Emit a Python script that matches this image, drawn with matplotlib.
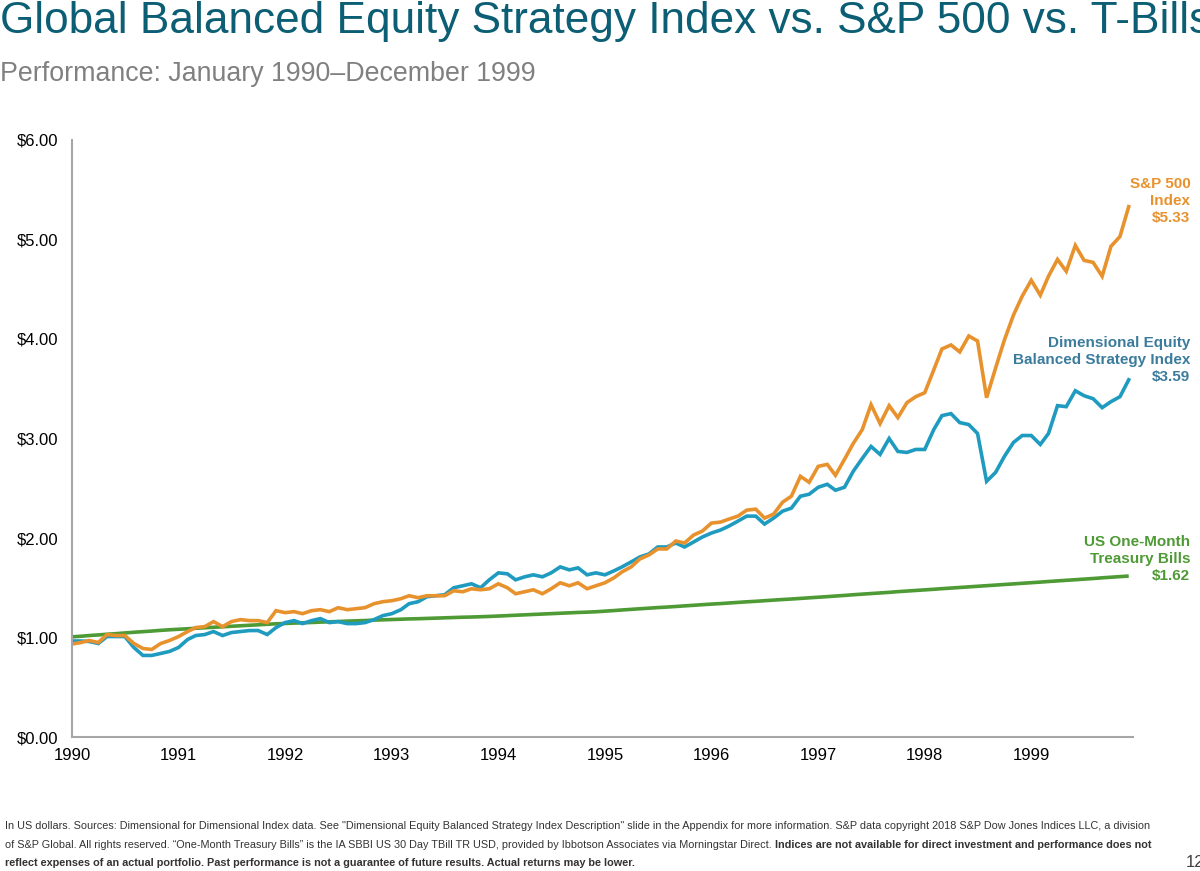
import matplotlib.pyplot as plt
import matplotlib.dates as mdates
import pandas as pd

plt.rcParams['font.family'] = ['Liberation Sans', 'DejaVu Sans']

# month-end growth of $1, Jan 1990 - Dec 1999
sp500 = [0.935, 0.95, 0.97, 0.95, 1.03, 1.02, 1.02, 0.94, 0.89, 0.88, 0.94, 0.97,
         1.01, 1.06, 1.10, 1.11, 1.16, 1.11, 1.16, 1.18, 1.17, 1.17, 1.15, 1.27,
         1.25, 1.26, 1.24, 1.27, 1.28, 1.26, 1.30, 1.28, 1.29, 1.30, 1.34, 1.36,
         1.37, 1.39, 1.42, 1.40, 1.42, 1.42, 1.42, 1.47, 1.46, 1.49, 1.48, 1.49,
         1.54, 1.50, 1.44, 1.46, 1.48, 1.44, 1.49, 1.55, 1.52, 1.55, 1.49, 1.52,
         1.55, 1.60, 1.66, 1.71, 1.79, 1.83, 1.89, 1.89, 1.97, 1.95, 2.03, 2.07,
         2.15, 2.16, 2.19, 2.22, 2.28, 2.29, 2.20, 2.24, 2.36, 2.42, 2.62, 2.56,
         2.72, 2.74, 2.63, 2.79, 2.95, 3.09, 3.34, 3.15, 3.33, 3.21, 3.36, 3.42,
         3.46, 3.69, 3.90, 3.94, 3.87, 4.03, 3.98, 3.41, 3.71, 3.99, 4.24, 4.43,
         4.59, 4.44, 4.63, 4.80, 4.68, 4.94, 4.79, 4.77, 4.63, 4.93, 5.03, 5.33]

dimensional = [0.965, 0.965, 0.96, 0.94, 1.01, 1.01, 1.01, 0.90, 0.82, 0.82, 0.84, 0.86,
               0.90, 0.98, 1.02, 1.03, 1.06, 1.02, 1.05, 1.06, 1.07, 1.07, 1.03, 1.10,
               1.15, 1.17, 1.14, 1.17, 1.19, 1.15, 1.16, 1.14, 1.14, 1.15, 1.18, 1.22,
               1.24, 1.28, 1.34, 1.36, 1.41, 1.42, 1.43, 1.50, 1.52, 1.54, 1.50, 1.58,
               1.65, 1.64, 1.58, 1.61, 1.63, 1.61, 1.65, 1.71, 1.68, 1.70, 1.63, 1.65,
               1.63, 1.67, 1.71, 1.76, 1.81, 1.84, 1.91, 1.91, 1.95, 1.91, 1.96, 2.01,
               2.05, 2.08, 2.12, 2.17, 2.22, 2.22, 2.14, 2.20, 2.27, 2.30, 2.42, 2.44,
               2.51, 2.54, 2.48, 2.51, 2.67, 2.80, 2.92, 2.84, 3.00, 2.87, 2.86, 2.89,
               2.89, 3.09, 3.23, 3.25, 3.16, 3.14, 3.05, 2.57, 2.66, 2.82, 2.96, 3.03,
               3.03, 2.94, 3.05, 3.33, 3.32, 3.48, 3.43, 3.40, 3.31, 3.37, 3.42, 3.59]

tbills = [1.007, 1.013, 1.020, 1.026, 1.033, 1.039, 1.046, 1.053, 1.059, 1.065, 1.072, 1.078,
          1.083, 1.088, 1.093, 1.098, 1.103, 1.108, 1.113, 1.118, 1.123, 1.128, 1.133, 1.138,
          1.141, 1.145, 1.148, 1.151, 1.155, 1.158, 1.161, 1.165, 1.168, 1.171, 1.175, 1.178,
          1.181, 1.184, 1.187, 1.189, 1.192, 1.195, 1.198, 1.201, 1.204, 1.206, 1.209, 1.212,
          1.216, 1.220, 1.224, 1.228, 1.232, 1.236, 1.240, 1.244, 1.248, 1.252, 1.255, 1.259,
          1.265, 1.271, 1.277, 1.283, 1.289, 1.295, 1.301, 1.306, 1.312, 1.318, 1.324, 1.330,
          1.336, 1.341, 1.347, 1.353, 1.359, 1.364, 1.370, 1.376, 1.382, 1.387, 1.393, 1.399,
          1.405, 1.411, 1.417, 1.423, 1.430, 1.436, 1.442, 1.448, 1.454, 1.461, 1.467, 1.473,
          1.479, 1.485, 1.491, 1.497, 1.503, 1.509, 1.515, 1.521, 1.527, 1.533, 1.539, 1.545,
          1.551, 1.557, 1.563, 1.569, 1.575, 1.581, 1.587, 1.593, 1.600, 1.606, 1.612, 1.618]

months = pd.date_range('1990-01-01', periods=len(sp500), freq='MS')
yticks = [0, 1, 2, 3, 4, 5, 6]

c_sp = '#E8922E'
c_dim = '#1F9BBF'
c_tb = '#4E9A35'

fig = plt.figure(figsize=(12, 8.71), dpi=100)
ax = fig.add_axes([0.06, 0.1538, 0.884, 0.6855])

ax.plot(months, tbills, color=c_tb, lw=2.6, solid_capstyle='butt')
ax.plot(months, dimensional, color=c_dim, lw=2.6, solid_joinstyle='miter')
ax.plot(months, sp500, color=c_sp, lw=2.6, solid_joinstyle='miter')

ax.set_ylim(0, 6)
ax.set_yticks(yticks)
ax.set_yticklabels(['\\$%.2f' % v for v in yticks])
ax.set_xlim(pd.Timestamp('1990-01-01'), pd.Timestamp('1999-12-15'))
ax.xaxis.set_major_locator(mdates.YearLocator())
ax.xaxis.set_major_formatter(mdates.DateFormatter('%Y'))
ax.tick_params(axis='both', length=0, labelsize=12, colors='black')
ax.tick_params(axis='y', pad=10)
ax.tick_params(axis='x', pad=8)

for s in ['top', 'right']:
    ax.spines[s].set_visible(False)
for s in ['left', 'bottom']:
    ax.spines[s].set_color('#A6A6A6')
    ax.spines[s].set_linewidth(1.5)

# end labels
fig.text(0.992, 1 - 201 / 871, 'S&P 500\nIndex\n\\$5.33', ha='right', va='center',
         color=c_sp, fontsize=11, fontweight='bold', linespacing=1.25)
fig.text(0.992, 1 - 360 / 871, 'Dimensional Equity\nBalanced Strategy Index\n\\$3.59',
         ha='right', va='center', color='#3B7C9C', fontsize=11, fontweight='bold',
         linespacing=1.25)
fig.text(0.992, 1 - 559 / 871, 'US One-Month\nTreasury Bills\n\\$1.62', ha='right',
         va='center', color=c_tb, fontsize=11, fontweight='bold', linespacing=1.25)

# titles
fig.text(0.0, 1 - 22 / 871, 'Global Balanced Equity Strategy Index vs. S&P 500 vs. T-Bills',
         ha='left', va='center', color='#0B5E73', fontsize=31.8)
fig.text(0.0, 1 - 74 / 871, 'Performance: January 1990\u2013December 1999',
         ha='left', va='center', color='#808080', fontsize=19.3)

# footnote
fs = 7.8
line1 = ('In US dollars. Sources: Dimensional for Dimensional Index data. See "Dimensional Equity '
         'Balanced Strategy Index Description" slide in the Appendix for more information. '
         'S&P data copyright 2018 S&P Dow Jones Indices LLC, a division')
line2a = ('of S&P Global. All rights reserved. \u201cOne-Month Treasury Bills\u201d is the IA SBBI '
          'US 30 Day TBill TR USD, provided by Ibbotson Associates via Morningstar Direct. ')
line2b = 'Indices are not available for direct investment and performance does not'
line3 = ('reflect expenses of an actual portfolio. Past performance is not a guarantee of '
         'future results. Actual returns may be lower.')

fig.text(0.004, 1 - 826 / 871, line1, ha='left', va='center', fontsize=fs, color='#333333')
t2 = fig.text(0.004, 1 - 845 / 871, line2a, ha='left', va='center', fontsize=fs,
              color='#333333')
fig.canvas.draw()
bb = t2.get_window_extent(renderer=fig.canvas.get_renderer())
fig.text(bb.x1 / fig.bbox.width, 1 - 845 / 871, line2b, ha='left', va='center',
         fontsize=fs, fontweight='bold', color='#333333')
fig.text(0.004, 1 - 863 / 871, line3, ha='left', va='center', fontsize=fs,
         fontweight='bold', color='#333333')
fig.text(0.988, 1 - 862 / 871, '12', ha='left', va='center', fontsize=12, color='#404040')

fig.savefig('out.png', dpi=100)
